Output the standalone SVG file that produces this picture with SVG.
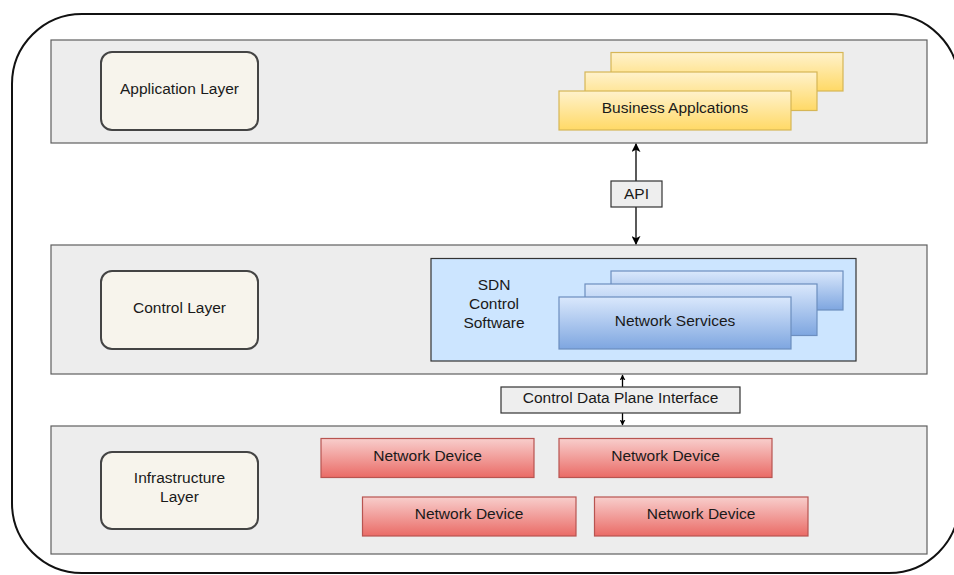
<svg xmlns="http://www.w3.org/2000/svg" width="954" height="575" viewBox="0 0 954 575">
  <defs>
    <linearGradient id="gYellow" x1="0" y1="0" x2="0" y2="1">
      <stop offset="0" stop-color="#fff2cc"/>
      <stop offset="1" stop-color="#ffd966"/>
    </linearGradient>
    <linearGradient id="gBlue" x1="0" y1="0" x2="0" y2="1">
      <stop offset="0" stop-color="#dae8fc"/>
      <stop offset="1" stop-color="#7ea6e0"/>
    </linearGradient>
    <linearGradient id="gRed" x1="0" y1="0" x2="0" y2="1">
      <stop offset="0" stop-color="#f8cecc"/>
      <stop offset="1" stop-color="#ea6b66"/>
    </linearGradient>
    <marker id="arrBig" viewBox="0 0 10 10" refX="9" refY="5" markerWidth="9" markerHeight="9" markerUnits="userSpaceOnUse" orient="auto">
      <path d="M0,0 L10,5 L0,10 L2.5,5 Z" fill="#000"/>
    </marker>
    <marker id="arrSmall" viewBox="0 0 10 10" refX="9" refY="5" markerWidth="6" markerHeight="6" markerUnits="userSpaceOnUse" orient="auto">
      <path d="M0,0 L10,5 L0,10 L2.5,5 Z" fill="#000"/>
    </marker>
  </defs>
  <style>
    text { font-family: "Liberation Sans", Arial, sans-serif; font-size: 15.5px; fill: #1a1a1a; text-anchor: middle; }
    .band { fill: #ededed; stroke: #5f5f5f; stroke-width: 1.2; }
    .label { fill: #f7f4ec; stroke: #444; stroke-width: 2; }
    .yellow { fill: url(#gYellow); stroke: #d6b656; stroke-width: 1.2; }
    .blue { fill: url(#gBlue); stroke: #6c8ebf; stroke-width: 1.2; }
    .red { fill: url(#gRed); stroke: #b85450; stroke-width: 1.2; }
    .tag { fill: #eeeeee; stroke: #333; stroke-width: 1.2; }
    .link { stroke: #000; stroke-width: 1.3; fill: none; }
  </style>

  <rect x="0" y="0" width="954" height="575" fill="#ffffff"/>

  <!-- outer frame -->
  <rect x="12" y="14" width="947" height="559" rx="70" ry="70" fill="#ffffff" stroke="#111" stroke-width="2"/>

  <!-- layer bands -->
  <g id="band-application"><rect class="band" x="51" y="40" width="876" height="103"/></g>
  <g id="band-control"><rect class="band" x="51" y="245" width="876" height="129"/></g>
  <g id="band-infrastructure"><rect class="band" x="51" y="426" width="876" height="128"/></g>

  <!-- layer names -->
  <g id="application-layer">
    <rect class="label" x="101" y="52" width="157" height="78" rx="11"/>
    <text x="179.5" y="93.5">Application Layer</text>
  </g>
  <g id="control-layer">
    <rect class="label" x="101" y="271" width="157" height="78" rx="11"/>
    <text x="179.5" y="312.5">Control Layer</text>
  </g>
  <g id="infrastructure-layer">
    <rect class="label" x="101" y="452" width="157" height="77" rx="11"/>
    <text x="179.5" y="482.5">Infrastructure</text>
    <text x="179.5" y="501.5">Layer</text>
  </g>

  <!-- business applications stack -->
  <g id="business-applications">
    <rect class="yellow" x="611" y="52.5" width="232" height="38.5"/>
    <rect class="yellow" x="585" y="72" width="232" height="38.5"/>
    <rect class="yellow" x="559" y="91" width="232" height="39"/>
    <text x="675" y="112.5">Business Applcations</text>
  </g>

  <!-- SDN control software -->
  <g id="sdn-control">
    <rect x="431" y="258.5" width="425" height="102.5" fill="#cce5ff" stroke="#333" stroke-width="1.2"/>
    <text x="494" y="289.5">SDN</text>
    <text x="494" y="308.5">Control</text>
    <text x="494" y="327.5">Software</text>
  </g>
  <g id="network-services">
    <rect class="blue" x="611" y="271" width="232" height="39"/>
    <rect class="blue" x="585" y="284" width="232" height="51.5"/>
    <rect class="blue" x="559" y="297" width="232" height="52"/>
    <text x="675" y="325.5">Network Services</text>
  </g>

  <!-- network devices -->
  <g id="device-1">
    <rect class="red" x="321" y="438.5" width="213" height="39"/>
    <text x="427.5" y="460.5">Network Device</text>
  </g>
  <g id="device-2">
    <rect class="red" x="559" y="438.5" width="213" height="39"/>
    <text x="665.5" y="460.5">Network Device</text>
  </g>
  <g id="device-3">
    <rect class="red" x="362.5" y="497" width="213.5" height="39"/>
    <text x="469" y="518.5">Network Device</text>
  </g>
  <g id="device-4">
    <rect class="red" x="594.5" y="497" width="213.5" height="39"/>
    <text x="701" y="518.5">Network Device</text>
  </g>

  <!-- connectors -->
  <g id="connectors">
    <line class="link" x1="636" y1="181" x2="636" y2="144" marker-end="url(#arrBig)"/>
    <line class="link" x1="636" y1="207" x2="636" y2="244" marker-end="url(#arrBig)"/>
    <line class="link" x1="622.5" y1="387" x2="622.5" y2="375" marker-end="url(#arrSmall)"/>
    <line class="link" x1="622.5" y1="413" x2="622.5" y2="425" marker-end="url(#arrSmall)"/>
  </g>

  <!-- interface tags -->
  <g id="api">
    <rect class="tag" x="611" y="181" width="51" height="26"/>
    <text x="636.5" y="198.5">API</text>
  </g>
  <g id="cdpi">
    <rect class="tag" x="501" y="387" width="239" height="26"/>
    <text x="620.5" y="402.5">Control Data Plane Interface</text>
  </g>
</svg>
